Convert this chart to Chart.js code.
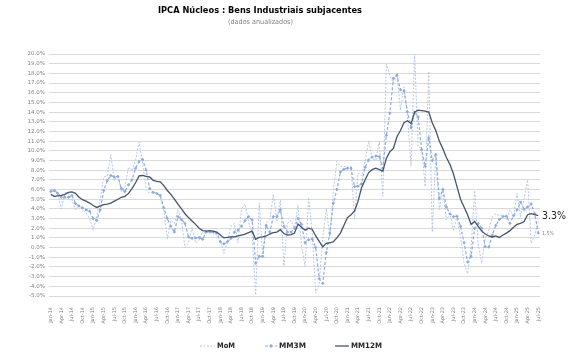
<!DOCTYPE html>
<html><head><meta charset="utf-8">
<script src="https://cdn.jsdelivr.net/npm/chart.js@4.4.1/dist/chart.umd.min.js"></script>
<style>html,body{margin:0;padding:0;background:#fff}#wrap{width:581px;height:362px}</style>
</head><body><div id="wrap"><canvas id="c" width="581" height="362"></canvas></div>
<script>
const titleText = "IPCA Núcleos : Bens Industriais subjacentes";
const subtitleText = "(dados anualizados)";
const monthNames = ["Jan","Feb","Mar","Apr","May","Jun","Jul","Aug","Sep","Oct","Nov","Dec"];
const categories = [];
for (let y = 14; y <= 25; y++) for (let m = 0; m < 12; m++) { if (y === 25 && m > 6) break; categories.push(monthNames[m] + "-" + y); }
const seriesNames = ["MoM", "MM3M", "MM12M"];
const mom = [6.0,6.1,5.6,4.0,5.7,5.6,4.9,3.9,4.4,3.9,
3.6,3.0,1.8,3.2,5.0,7.3,7.4,9.6,6.9,7.5,
5.8,6.3,8.3,8.0,9.0,10.9,8.7,6.0,5.6,5.8,
5.6,5.2,3.9,0.9,2.8,2.5,3.9,2.8,0.0,0.5,
2.1,0.5,0.8,1.6,1.5,1.8,1.5,1.3,0.8,-0.6,
0.6,2.2,2.5,0.5,4.0,4.5,2.7,1.5,-4.9,4.6,
-0.9,2.5,2.9,5.5,2.8,4.9,-1.9,2.5,2.8,
2.0,4.4,0.1,-1.9,5.2,1.6,-4.7,-3.7,1.0,4.0,
1.1,5.9,8.9,8.4,8.4,8.3,8.4,3.0,7.7,7.4,
8.9,11.0,9.2,9.0,11.0,5.3,19.0,17.8,17.0,18.0,
14.2,16.6,13.5,8.4,20.0,10.4,10.3,6.3,18.2,1.6,
9.7,3.9,5.9,2.85,3.5,1.8,3.2,1.1,-1.6,-2.7,
0.1,5.9,0.4,-1.6,0.95,1.8,3.2,3.5,3.3,3.4,
2.9,3.9,3.2,5.6,3.2,5.1,7.0,0.45,1.3,2.7];
const mm3m = [5.8,5.9,5.6,5.2,5.2,5.2,5.4,4.55,4.3,4.1,
3.9,3.75,3.0,2.8,3.9,5.9,6.9,7.45,7.3,7.35,
6.1,5.8,6.5,7.0,8.2,8.9,9.1,8.0,6.1,5.7,
5.6,5.4,4.1,3.0,2.2,1.6,3.2,2.9,2.5,1.1,
0.95,1.0,1.05,0.85,1.6,1.6,1.6,1.5,0.6,0.4,
0.6,0.95,1.6,1.8,2.2,2.8,3.2,2.85,-1.6,-0.9,
-0.9,2.3,1.6,3.2,3.2,3.9,2.2,1.6,1.6,
2.0,3.0,2.4,0.5,0.8,0.9,0.0,-3.2,-3.7,-0.5,
1.5,4.6,6.0,7.8,8.1,8.2,8.2,6.3,6.35,6.6,
8.3,9.05,9.35,9.45,9.4,8.2,11.6,13.9,17.5,17.8,
16.3,16.2,14.0,12.4,14.0,13.5,10.1,8.4,11.3,9.0,
9.6,5.1,6.0,4.2,3.5,3.2,3.25,2.2,0.5,-1.5,
-0.9,2.0,2.5,2.0,0.1,0.05,1.3,2.3,2.9,3.2,
3.25,2.5,3.3,3.9,4.7,3.95,4.2,4.5,3.5,1.5];
const mm12m = [5.5,5.3,5.35,5.4,5.5,5.7,5.75,5.6,5.2,4.95,
4.8,4.6,4.35,4.15,4.3,4.45,4.5,4.6,4.8,5.0,
5.2,5.3,5.6,6.1,6.7,7.4,7.45,7.35,7.3,6.95,
6.85,6.8,6.4,5.9,5.5,5.0,4.5,4.0,3.5,3.1,
2.75,2.4,2.0,1.75,1.7,1.75,1.7,1.6,1.3,1.0,
1.05,1.1,1.1,1.2,1.3,1.4,1.55,1.7,0.85,1.05,
1.1,1.2,1.4,1.55,1.6,1.85,1.45,1.3,1.35,
1.5,2.43,2.1,1.8,2.0,1.9,1.2,0.65,0.07,0.44,
0.5,0.6,1.0,1.5,2.3,3.1,3.4,3.8,4.8,6.2,
7.0,7.75,8.05,8.2,8.05,7.9,9.2,9.9,10.25,11.45,
12.1,12.9,13.1,12.8,14.0,14.2,14.15,14.1,14.0,12.9,
12.1,11.0,10.2,9.3,8.6,7.6,6.3,5.0,4.2,3.4,
2.4,2.7,2.2,1.7,1.4,1.2,1.1,1.2,1.05,1.3,
1.5,1.75,2.1,2.4,2.5,2.7,3.4,3.5,3.4,3.3];
const yMin = -5, yMax = 20, yStep = 1;

const colMoM = "#b4c7e7", colMM3 = "#8faadc", colMM12 = "#44546a";

const overlay = {
  id: "overlay",
  afterDraw(chart) {
    const ctx = chart.ctx, ca = chart.chartArea, ys = chart.scales.y;
    ctx.save();
    ctx.textBaseline = "middle";
    ctx.textAlign = "center";
    ctx.fillStyle = "#000";
    ctx.font = "bold 9px 'DejaVu Sans'";
    ctx.fillText(titleText, 260, 11, 204);
    ctx.fillStyle = "#7f7f7f";
    ctx.font = "7px 'DejaVu Sans'";
    ctx.fillText(subtitleText, 260.5, 22, 65);
    // legend
    const ly = 346;
    const items = [
      {x0:200,x1:215,tx:217,tw:18,col:colMoM,dash:[2,1.5],w:1,mark:false,name:seriesNames[0]},
      {x0:265,x1:277,tx:279,tw:27,col:colMM3,dash:[3,2],w:1.2,mark:true,name:seriesNames[1]},
      {x0:335,x1:349,tx:351,tw:31,col:colMM12,dash:[],w:1.3,mark:false,name:seriesNames[2]}
    ];
    ctx.textAlign = "left";
    ctx.font = "bold 7.5px 'DejaVu Sans'";
    for (const it of items) {
      ctx.save();
      ctx.strokeStyle = it.col; ctx.lineWidth = it.w; ctx.setLineDash(it.dash);
      ctx.beginPath(); ctx.moveTo(it.x0, ly); ctx.lineTo(it.x1, ly); ctx.stroke();
      ctx.restore();
      if (it.mark) {
        const cx = (it.x0 + it.x1) / 2;
        ctx.fillStyle = it.col;
        ctx.beginPath(); ctx.moveTo(cx, ly-2); ctx.lineTo(cx+2, ly); ctx.lineTo(cx, ly+2); ctx.lineTo(cx-2, ly); ctx.closePath(); ctx.fill();
      }
      ctx.fillStyle = "#262626";
      ctx.fillText(it.name, it.tx, ly, it.tw);
    }
    // end labels
    const last12 = mm12m[mm12m.length-1], last3 = mm3m[mm3m.length-1];
    ctx.fillStyle = "#262626";
    ctx.font = "11px 'DejaVu Sans'";
    ctx.fillText(last12.toFixed(1) + "%", ca.right + 2, ys.getPixelForValue(last12), 24);
    ctx.fillStyle = "#8c8c8c";
    ctx.font = "5.5px 'DejaVu Sans'";
    ctx.fillText(last3.toFixed(1) + "%", ca.right + 2, ys.getPixelForValue(last3), 12);
    ctx.restore();
  }
};

new Chart(document.getElementById("c"), {
  type: "line",
  data: {
    labels: categories,
    datasets: [
      {label: seriesNames[0], data: mom, borderColor: colMoM, borderWidth: 1, borderDash: [2,1.5], pointRadius: 0, order: 2},
      {label: seriesNames[1], data: mm3m, borderColor: colMM3, borderWidth: 1.2, borderDash: [3,2], pointStyle: "rectRot", pointRadius: 1.7, pointBackgroundColor: colMM3, pointBorderWidth: 0, order: 1},
      {label: seriesNames[2], data: mm12m, borderColor: colMM12, borderWidth: 1.3, pointRadius: 0, order: 0}
    ]
  },
  options: {
    responsive: false, animation: false, devicePixelRatio: 1,
    layout: {padding: {top: 54, right: 41, left: 0, bottom: 0}},
    plugins: {legend: {display: false}, title: {display: false}, tooltip: {enabled: false}},
    elements: {line: {tension: 0}},
    scales: {
      x: {
        type: "category", offset: true,
        grid: {display: false}, border: {display: false},
        ticks: {autoSkip: false, minRotation: 90, maxRotation: 90, padding: 3,
          font: {size: 5, family: "'DejaVu Sans'"}, color: "#7f7f7f",
          callback: (v, i) => (i % 3 === 0 ? categories[i] : null)},
        afterFit: s => { s.height = 66; }
      },
      y: {
        min: yMin, max: yMax,
        grid: {color: "#d9d9d9", drawTicks: false, lineWidth: 1}, border: {display: false},
        ticks: {stepSize: yStep, padding: 4, font: {size: 5.5, family: "'DejaVu Sans'"}, color: "#7f7f7f",
          callback: v => v.toFixed(1) + "%"},
        afterFit: s => { s.width = 49; }
      }
    }
  },
  plugins: [overlay]
});
</script></body></html>
